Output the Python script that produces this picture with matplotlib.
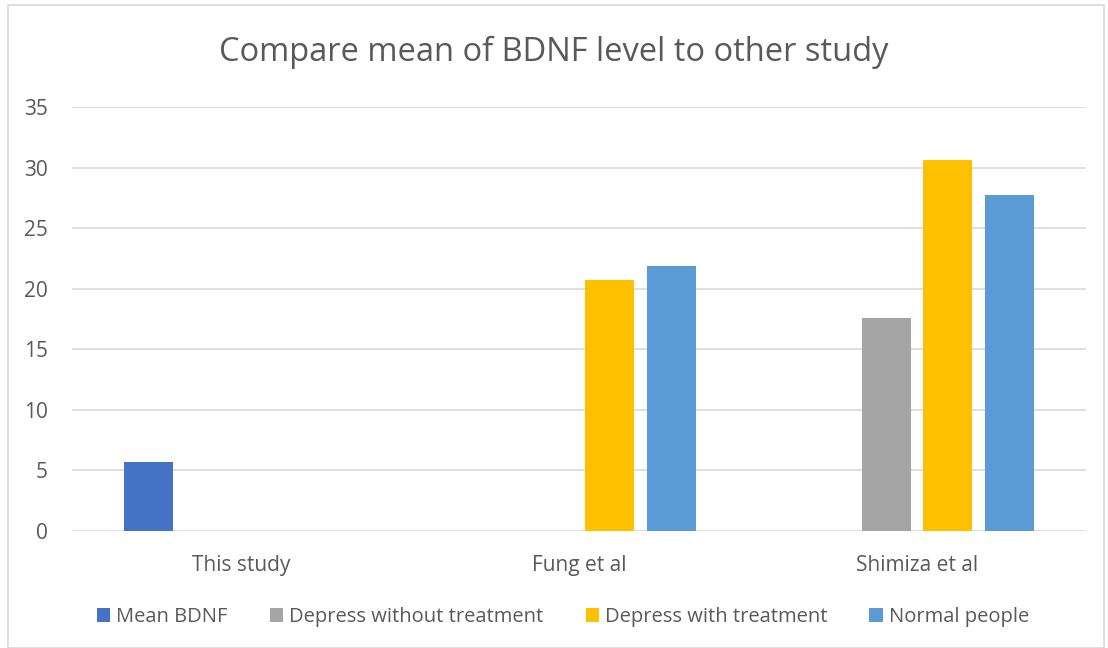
import matplotlib
matplotlib.use("Agg")
import matplotlib.pyplot as plt
from matplotlib.patches import Rectangle
import numpy as np

categories = ["This study", "Fung et al", "Shimiza et al"]
series_names = ["Mean BDNF", "Depress without treatment", "Depress with treatment", "Normal people"]
mean_bdnf = [5.7, None, None]
depress_without = [None, None, 17.6]
depress_with = [None, 20.7, 30.6]
normal_people = [None, 21.9, 27.7]
colors = ["#4472C4", "#A5A5A5", "#FFC000", "#5B9BD5"]
y_ticks = [0, 5, 10, 15, 20, 25, 30, 35]

plt.rcParams["font.family"] = ["Open Sans", "DejaVu Sans"]
text_color = "#595959"

fig = plt.figure(figsize=(11.08, 6.48), dpi=100)
fig.patches.append(Rectangle((8 / 1108, 0.0), 1096 / 1108, 643 / 648, transform=fig.transFigure,
                             fill=False, edgecolor="#D9D9D9", linewidth=1.2))

ax = fig.add_axes([72 / 1108, 1 - 531 / 648, (1086 - 72) / 1108, (531 - 107) / 648])

x = np.arange(len(categories))
width = 0.145
offsets = [-0.273, -0.0915, 0.0915, 0.273]
all_series = [mean_bdnf, depress_without, depress_with, normal_people]
for vals, off, col, name in zip(all_series, offsets, colors, series_names):
    xs = [xi + off for xi, v in zip(x, vals) if v is not None]
    ys = [v for v in vals if v is not None]
    ax.bar(xs, ys, width=width, color=col, label=name, zorder=3)

ax.set_xlim(-0.5, len(categories) - 0.5)
ax.set_ylim(0, 35)
ax.set_yticks(y_ticks)
ax.set_xticks(x)
ax.set_xticklabels(categories)
ax.tick_params(axis="both", length=0, labelsize=15, colors=text_color)
ax.tick_params(axis="y", pad=17.5)
ax.tick_params(axis="x", pad=17)
ax.grid(axis="y", color="#D9D9D9", linewidth=1.2, zorder=0)
for s in ax.spines.values():
    s.set_visible(False)

fig.text(0.5, 1 - 52 / 648, "Compare mean of BDNF level to other study", ha="center", va="center",
         fontsize=23.5, color=text_color)

fig.legend(loc="center", bbox_to_anchor=(0.508, 1 - 617 / 648), ncol=4, frameon=False,
           fontsize=14.5, handlelength=0.65, handleheight=0.65, handletextpad=0.3,
           columnspacing=2.1, labelcolor=text_color)

fig.savefig("out.png", dpi=100, facecolor="white")
